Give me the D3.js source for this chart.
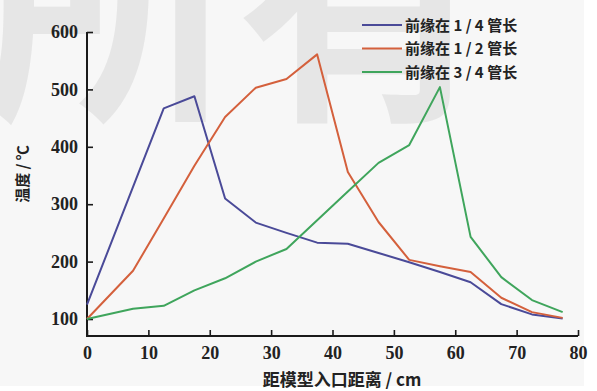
<!DOCTYPE html>
<html>
<head>
<meta charset="utf-8">
<script src="https://cdn.jsdelivr.net/npm/d3@7"></script>
<style>
  html, body { margin: 0; padding: 0; background: #ffffff; }
  svg { display: block; }
</style>
</head>
<body>
<svg id="chart" width="597" height="391"></svg>
<script>
// Distance from model inlet (cm) at which temperatures were sampled
const distances = [0, 7.5, 12.5, 17.5, 22.5, 27.5, 32.5, 37.5, 42.5, 47.5, 52.5, 57.5, 62.5, 67.5, 72.5, 77.5];

// Temperature (°C) for each leading-edge position
const quarterTemps = [125, 330, 467, 488, 310, 268, 250, 233, 231, 215, 199, 182, 164, 126, 108, 101];
const halfTemps    = [100, 184, 275, 367, 452, 503, 518, 561, 356, 269, 203, 192, 182, 137, 112, 102];
const threeQTemps  = [100, 118, 123, 150, 171, 200, 222, 272, 322, 372, 403, 504, 243, 173, 133, 112];

const seriesNames = ["前缘在 1 / 4 管长", "前缘在 1 / 2 管长", "前缘在 3 / 4 管长"];
const seriesColors = ["#4a4a98", "#d4603c", "#3fa55c"];

const xTicks = [0, 10, 20, 30, 40, 50, 60, 70, 80];
const yTicks = [100, 200, 300, 400, 500, 600];

const xTitle = "距模型入口距离 / cm";
const yTitle = "温度 / ℃";

const svg = d3.select("#chart");

// page tint and faint backdrop lettering
svg.append("rect").attr("x", 0).attr("y", 0).attr("width", 584).attr("height", 386).attr("fill", "#f7f7f7");
svg.append("text")
  .attr("x", -18).attr("y", 100)
  .attr("font-family", "'Noto Sans CJK SC'")
  .attr("font-weight", "bold")
  .attr("font-size", 255)
  .attr("fill", "#e6e6e6")
  .text("所有");

const x = d3.scaleLinear().domain([0, 80]).range([87, 578]);
const y = d3.scaleLinear().domain([70.4, 600]).range([336, 32]);

const serif = "'Liberation Serif', 'DejaVu Serif', serif";

// axes with inward ticks
const xAxis = d3.axisBottom(x).tickValues(xTicks).tickSizeInner(-6).tickSizeOuter(0).tickPadding(10);
const yAxis = d3.axisLeft(y).tickValues(yTicks).tickSizeInner(-6).tickSizeOuter(0).tickPadding(9);

const gx = svg.append("g").attr("transform", "translate(0,336)").call(xAxis);
const gy = svg.append("g").attr("transform", "translate(87,0)").call(yAxis);

[gx, gy].forEach(g => {
  g.select(".domain").attr("stroke", "#1a1a1a").attr("stroke-width", 2);
  g.selectAll(".tick line").attr("stroke", "#1a1a1a").attr("stroke-width", 1.6);
  g.selectAll(".tick text")
    .attr("font-family", serif)
    .attr("font-size", 18)
    .attr("font-weight", "bold")
    .attr("fill", "#222");
});
gy.select(".domain").attr("d", "M0,336V32");
gx.select(".domain").attr("d", "M86,0H578");

// series lines
const seriesData = [quarterTemps, halfTemps, threeQTemps];
const line = d3.line().x(d => x(d[0])).y(d => y(d[1]));

seriesData.forEach((vals, i) => {
  svg.append("path")
    .datum(distances.map((d, j) => [d, vals[j]]))
    .attr("fill", "none")
    .attr("stroke", seriesColors[i])
    .attr("stroke-width", 2)
    .attr("stroke-linejoin", "round")
    .attr("d", line);
});

// legend
const legend = svg.append("g").attr("transform", "translate(362,25)");
seriesNames.forEach((name, i) => {
  const row = legend.append("g").attr("transform", `translate(0,${i * 23.5})`);
  row.append("line").attr("x1", 0).attr("x2", 40).attr("y1", 0).attr("y2", 0)
    .attr("stroke", seriesColors[i]).attr("stroke-width", 2);
  row.append("text").attr("x", 43).attr("y", 5.5)
    .attr("font-family", "'Noto Sans CJK SC'")
    .attr("font-weight", "bold")
    .attr("font-size", 15)
    .attr("fill", "#222")
    .text(name);
});

// axis titles
svg.append("text")
  .attr("x", 342).attr("y", 386)
  .attr("text-anchor", "middle")
  .attr("font-family", "'Noto Sans CJK SC'")
  .attr("font-weight", "bold")
  .attr("font-size", 17)
  .attr("fill", "#222")
  .text(xTitle);

svg.append("text")
  .attr("transform", "translate(28,174) rotate(-90)")
  .attr("text-anchor", "middle")
  .attr("font-family", "'Noto Sans CJK SC'")
  .attr("font-weight", "bold")
  .attr("font-size", 15)
  .attr("fill", "#222")
  .text(yTitle);
</script>
</body>
</html>
